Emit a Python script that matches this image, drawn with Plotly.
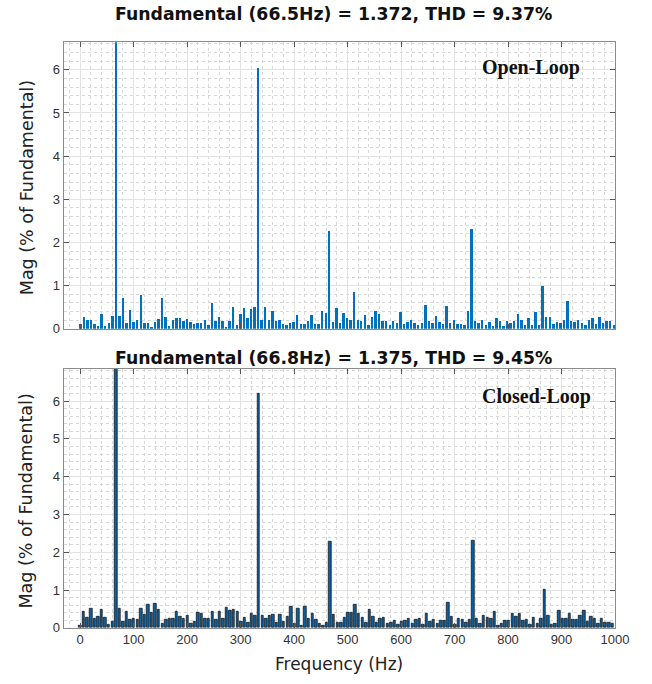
import plotly.graph_objects as go

# ---------------- data ----------------
fund_open = 66.5      # Hz
fund_closed = 66.8    # Hz
bins_per_fund = 10    # FFT resolution = fundamental / 10

# magnitude (% of fundamental) for bins k = 0..150 (open loop)
mag_open = [
    0.11, 0.27, 0.19, 0.19, 0.11, 0.07, 0.33, 0.05, 0.13, 0.29,
    100.0, 0.30, 0.72, 0.13, 0.43, 0.15, 0.21, 0.79, 0.13, 0.13,
    0.02, 0.16, 0.22, 0.70, 0.28, 0.07, 0.20, 0.25, 0.24, 0.18,
    0.23, 0.15, 0.11, 0.13, 0.13, 0.21, 0.09, 0.60, 0.18, 0.27,
    0.18, 0.04, 0.17, 0.51, 0.09, 0.34, 0.47, 0.24, 0.45, 0.50,
    6.03, 0.19, 0.50, 0.21, 0.40, 0.17, 0.19, 0.10, 0.08, 0.13,
    0.15, 0.32, 0.11, 0.11, 0.18, 0.31, 0.11, 0.11, 0.40, 0.36,
    2.26, 0.15, 0.47, 0.14, 0.37, 0.24, 0.20, 0.85, 0.21, 0.18,
    0.32, 0.09, 0.27, 0.40, 0.33, 0.18, 0.18, 0.08, 0.17, 0.14,
    0.38, 0.11, 0.15, 0.21, 0.12, 0.08, 0.12, 0.55, 0.17, 0.13,
    0.29, 0.15, 0.11, 0.52, 0.14, 0.20, 0.11, 0.11, 0.08, 0.40,
    2.31, 0.18, 0.12, 0.21, 0.09, 0.15, 0.06, 0.24, 0.18, 0.06,
    0.17, 0.12, 0.18, 0.35, 0.21, 0.09, 0.25, 0.09, 0.39, 0.08,
    0.98, 0.28, 0.28, 0.11, 0.15, 0.12, 0.21, 0.63, 0.18, 0.15,
    0.19, 0.12, 0.09, 0.19, 0.24, 0.11, 0.26, 0.12, 0.18, 0.18,
    0.08,
]

# magnitude (% of fundamental) for bins k = 0..149 (closed loop)
mag_closed = [
    0.05, 0.43, 0.27, 0.51, 0.25, 0.29, 0.47, 0.27, 0.09, 0.17,
    100.0, 0.51, 0.17, 0.42, 0.21, 0.24, 0.22, 0.51, 0.36, 0.62,
    0.40, 0.65, 0.49, 0.11, 0.22, 0.24, 0.24, 0.42, 0.30, 0.24,
    0.32, 0.12, 0.17, 0.40, 0.38, 0.24, 0.24, 0.42, 0.21, 0.42,
    0.25, 0.53, 0.45, 0.49, 0.43, 0.16, 0.26, 0.14, 0.37, 0.32,
    6.19, 0.33, 0.24, 0.32, 0.35, 0.13, 0.36, 0.17, 0.31, 0.55,
    0.11, 0.51, 0.06, 0.55, 0.24, 0.38, 0.23, 0.11, 0.06, 0.15,
    2.28, 0.34, 0.15, 0.15, 0.28, 0.41, 0.41, 0.62, 0.38, 0.26,
    0.13, 0.47, 0.31, 0.15, 0.24, 0.27, 0.12, 0.13, 0.19, 0.09,
    0.17, 0.18, 0.24, 0.12, 0.21, 0.24, 0.09, 0.37, 0.17, 0.21,
    0.11, 0.18, 0.18, 0.66, 0.29, 0.08, 0.24, 0.22, 0.15, 0.21,
    2.32, 0.25, 0.10, 0.33, 0.28, 0.24, 0.42, 0.07, 0.10, 0.20,
    0.19, 0.37, 0.29, 0.37, 0.19, 0.23, 0.09, 0.26, 0.12, 0.25,
    1.01, 0.32, 0.09, 0.12, 0.46, 0.25, 0.25, 0.37, 0.23, 0.22,
    0.33, 0.46, 0.16, 0.30, 0.24, 0.11, 0.25, 0.15, 0.13, 0.10,
]

freq_open = [k * fund_open / bins_per_fund for k in range(len(mag_open))]
freq_closed = [k * fund_closed / bins_per_fund for k in range(len(mag_closed))]

title_open = "Fundamental (66.5Hz) = 1.372, THD = 9.37%"
title_closed = "Fundamental (66.8Hz) = 1.375, THD = 9.45%"
x_ticks = [0, 100, 200, 300, 400, 500, 600, 700, 800, 900, 1000]
y_ticks = [0, 1, 2, 3, 4, 5, 6]

# ---------------- figure ----------------
W, H = 652, 684
def px_x(p):
    return p / W
def px_y(p):
    return 1 - p / H

fig = go.Figure()
fig.add_trace(go.Bar(x=freq_open, y=mag_open, width=3.6,
                     marker=dict(color="#0072BD", line=dict(width=0)),
                     xaxis="x", yaxis="y", showlegend=False))
fig.add_trace(go.Bar(x=freq_closed, y=mag_closed, width=4.6,
                     marker=dict(color="#0f5f9c", line=dict(color="#0a0a0a", width=0.7)),
                     xaxis="x2", yaxis="y2", showlegend=False))

axis_common = dict(
    showline=True, linecolor="#8a8a8a", linewidth=1, mirror="ticks",
    ticks="inside", ticklen=5, tickcolor="#555555",
    showgrid=True, gridcolor="#e3e3e3", gridwidth=1,
    zeroline=False,
    tickfont=dict(family="Liberation Sans, Arial", size=13, color="#333333"),
)
minor_common = dict(showgrid=True, gridcolor="#d8d8d8", griddash="dot", gridwidth=1, ticks="")

xdom = [px_x(65), px_x(629)]
fig.update_layout(
    width=W, height=H,
    margin=dict(l=0, r=0, t=0, b=0),
    paper_bgcolor="white", plot_bgcolor="white",
    bargap=0,
    xaxis=dict(domain=xdom, anchor="y", range=[-31, 1001],
               tickvals=x_ticks, showticklabels=False,
               minor=dict(dtick=20, **minor_common), **axis_common),
    yaxis=dict(domain=[px_y(332.7), px_y(42.7)], anchor="x", range=[0, 6.64],
               tickvals=y_ticks, minor=dict(dtick=0.2, **minor_common), **axis_common),
    xaxis2=dict(domain=xdom, anchor="y2", range=[-31, 1001],
                tickvals=x_ticks, minor=dict(dtick=20, **minor_common), **axis_common),
    yaxis2=dict(domain=[px_y(635.3), px_y(373)], anchor="x2", range=[0, 6.86],
                tickvals=y_ticks, minor=dict(dtick=0.2, **minor_common), **axis_common),
)

ann = []
title_font = dict(family="DejaVu Sans, Verdana", size=17.3, color="#111111")
ann.append(dict(text="<b>" + title_open + "</b>", x=px_x(341), y=px_y(14), xref="paper", yref="paper",
                showarrow=False, xanchor="center", yanchor="middle", font=title_font))
ann.append(dict(text="<b>" + title_closed + "</b>", x=px_x(341), y=px_y(362), xref="paper", yref="paper",
                showarrow=False, xanchor="center", yanchor="middle", font=title_font))
lab_font = dict(family="DejaVu Sans, Verdana", size=17.5, color="#222222")
ann.append(dict(text="Mag (% of Fundamental)", x=px_x(27), y=px_y(190), xref="paper", yref="paper",
                showarrow=False, textangle=-90, xanchor="center", yanchor="middle", font=lab_font))
ann.append(dict(text="Mag (% of Fundamental)", x=px_x(27), y=px_y(507), xref="paper", yref="paper",
                showarrow=False, textangle=-90, xanchor="center", yanchor="middle", font=lab_font))
ann.append(dict(text="Frequency (Hz)", x=px_x(346), y=px_y(672), xref="paper", yref="paper",
                showarrow=False, xanchor="center", yanchor="middle",
                font=dict(family="DejaVu Sans, Verdana", size=17, color="#222222")))
loop_font = dict(family="Liberation Serif, Times New Roman", size=20, color="#111111")
ann.append(dict(text="<b>Open-Loop</b>", x=px_x(543), y=px_y(68), xref="paper", yref="paper",
                showarrow=False, xanchor="center", yanchor="middle", font=loop_font))
ann.append(dict(text="<b>Closed-Loop</b>", x=px_x(548), y=px_y(401), xref="paper", yref="paper",
                showarrow=False, xanchor="center", yanchor="middle", font=loop_font))
fig.update_layout(annotations=ann)

fig.write_html("out.html")
